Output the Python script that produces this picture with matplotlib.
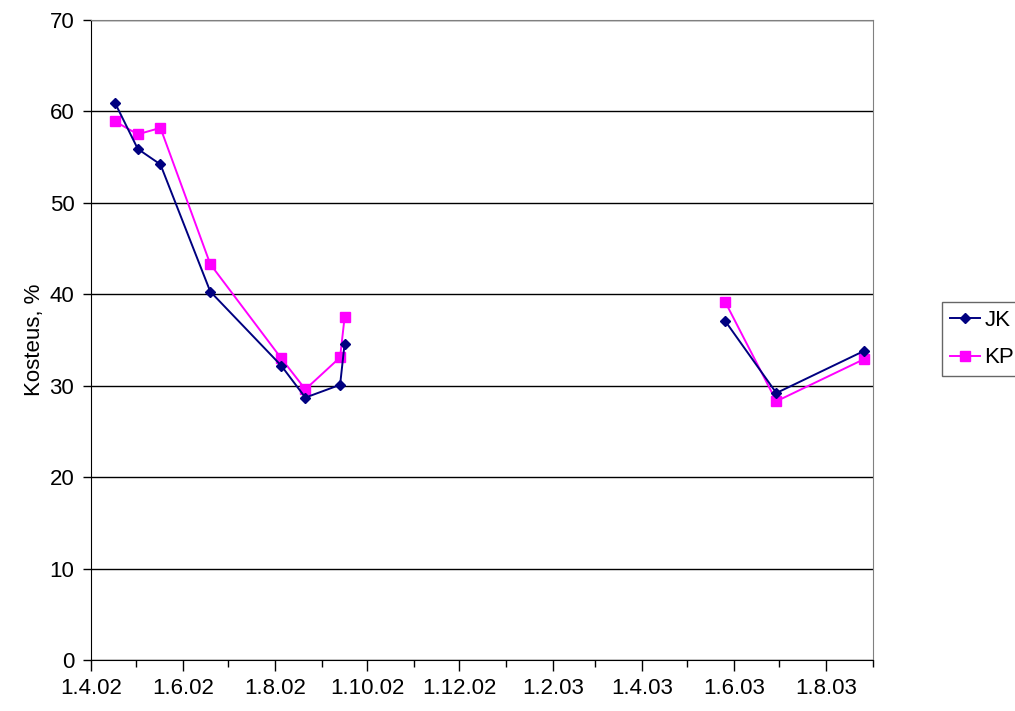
import matplotlib
matplotlib.use("Agg")
import matplotlib.pyplot as plt
import matplotlib.dates as mdates
from datetime import datetime

plt.rcParams['font.family'] = ['Liberation Sans', 'DejaVu Sans']

# measurements, two seasons (line breaks between them)
dates_2002 = ["17.4.2002", "2.5.2002", "17.5.2002", "19.6.2002",
              "5.8.2002", "21.8.2002", "13.9.2002", "16.9.2002"]
jk_2002 = [60.9, 55.9, 54.2, 40.3, 32.2, 28.7, 30.1, 34.6]
kp_2002 = [58.9, 57.5, 58.2, 43.3, 33.0, 29.6, 33.1, 37.5]

dates_2003 = ["26.5.2003", "29.6.2003", "26.8.2003"]
jk_2003 = [37.1, 29.2, 33.8]
kp_2003 = [39.2, 28.3, 32.9]

x_start = "1.4.2002"
x_end = "1.9.2003"


def d(s):
    return datetime.strptime(s, "%d.%m.%Y")


def fmt(v, p):
    t = mdates.num2date(v)
    return "%d.%d.%s" % (t.day, t.month, t.strftime("%y"))


fig = plt.figure(figsize=(10.15, 7.11), dpi=100)
ax = fig.add_axes([91 / 1015, 1 - 660 / 711, (873 - 91) / 1015, 640 / 711])

jk_style = dict(color='#000080', marker='D', markersize=5.5, lw=1.4)
kp_style = dict(color='#FF00FF', marker='s', markersize=6.5, lw=1.4)

for dates, jk, kp in [(dates_2002, jk_2002, kp_2002), (dates_2003, jk_2003, kp_2003)]:
    xs = [d(s) for s in dates]
    ax.plot(xs, jk, **jk_style, label='JK', zorder=3)
    ax.plot(xs, kp, **kp_style, label='KP', zorder=2)

ax.set_xlim(d(x_start), d(x_end))
ax.set_ylim(0, 70)
ax.set_yticks(range(0, 71, 10))
ax.yaxis.grid(True, color='black', lw=1)
ax.set_axisbelow(True)

ax.xaxis.set_major_locator(mdates.MonthLocator(bymonth=[2, 4, 6, 8, 10, 12]))
ax.xaxis.set_minor_locator(mdates.MonthLocator())
ax.xaxis.set_major_formatter(matplotlib.ticker.FuncFormatter(fmt))

ax.tick_params(axis='both', labelsize=16, colors='black')
ax.tick_params(axis='x', which='major', length=8, width=1, pad=5)
ax.tick_params(axis='x', which='minor', length=5, width=1)
ax.tick_params(axis='y', length=6, width=1, pad=6)

for s in ['left', 'bottom']:
    ax.spines[s].set_color('black')
for s in ['top', 'right']:
    ax.spines[s].set_color('#808080')

ax.set_ylabel("Kosteus, %", fontsize=16, labelpad=3)

handles, labels = ax.get_legend_handles_labels()
leg = fig.legend(handles[:2], labels[:2], loc='upper left',
                 bbox_to_anchor=(942 / 1015, 1 - 302 / 711), borderaxespad=0,
                 fontsize=16, frameon=True, fancybox=False, handlelength=1.35,
                 handletextpad=0.2, borderpad=0.35, labelspacing=0.75)
leg.get_frame().set_edgecolor('#404040')
leg.get_frame().set_linewidth(1)

fig.savefig("out.png", dpi=100)
